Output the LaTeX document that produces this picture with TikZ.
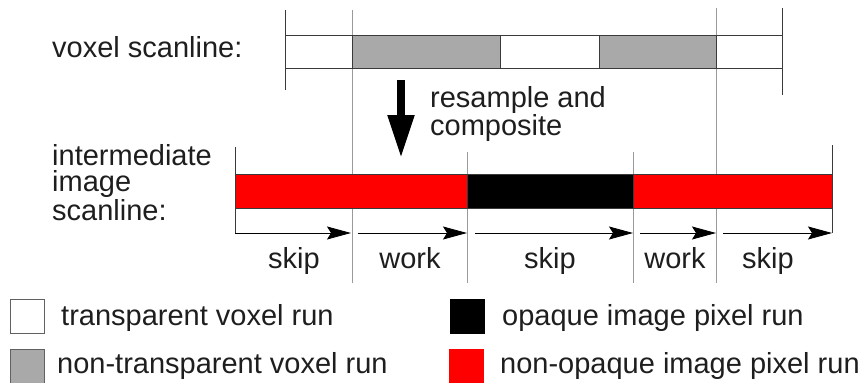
\documentclass[tikz,border=0pt]{standalone}
\usepackage{fontspec}
\setmainfont{Liberation Sans}
\usetikzlibrary{arrows.meta}
\definecolor{txt}{HTML}{1E1E1E}
\definecolor{voxgray}{HTML}{A9A9A9}
\definecolor{edge}{HTML}{3A3A3A}
\definecolor{guide}{HTML}{9A9A9A}
\begin{document}
\begin{tikzpicture}[x=1pt,y=-1pt,
  lbl/.style={anchor=base west,inner sep=0pt,text=txt,font=\fontsize{29}{29}\selectfont},
  mlbl/.style={anchor=base west,inner sep=0pt,text=txt,align=left},
  seglbl/.style={anchor=base,inner sep=0pt,text=txt,font=\fontsize{29}{29}\selectfont},
  vseg/.style={draw=edge,line width=0.9pt,anchor=north west,inner sep=0pt,minimum height=33pt},
  iseg/.style={draw=edge,line width=0.9pt,anchor=north west,inner sep=0pt,minimum height=34pt},
  guideline/.style={draw=guide,line width=0.7pt},
  tick/.style={draw=edge,line width=0.8pt},
  runarrow/.style={draw=black,line width=0.8pt,-{Stealth[length=24pt,width=13pt,inset=4pt]}},
  bigarrow/.style={draw=black,line width=8pt,-{Triangle[length=43pt,width=25pt]}},
  legbox/.style={draw=edge!80,line width=0.9pt,anchor=north west,inner sep=0pt,minimum width=34pt,minimum height=34pt}]
\useasboundingbox (0,0) rectangle (868,383);

% guide lines
\draw[guideline] (352,10) -- (352,283);
\draw[guideline] (716,8) -- (716,283);
\draw[guideline] (467,152) -- (467,283);
\draw[guideline] (633,152) -- (633,283);

% voxel scanline
\node[vseg,fill=white,minimum width=67pt] (v1) at (285,35) {};
\node[vseg,fill=voxgray,minimum width=148pt] (v2) at (352,35) {};
\node[vseg,fill=white,minimum width=99pt] (v3) at (500,35) {};
\node[vseg,fill=voxgray,minimum width=117pt] (v4) at (599,35) {};
\node[vseg,fill=white,minimum width=66pt] (v5) at (716,35) {};
\draw[tick] (285,10) -- (285,90);
\draw[tick] (782,8) -- (782,95);

% intermediate image scanline
\node[iseg,fill=red,minimum width=232pt] (r1) at (235,174) {};
\node[iseg,fill=black,minimum width=166pt] (b1) at (467,174) {};
\node[iseg,fill=red,minimum width=199pt] (r2) at (633,174) {};
\draw[tick] (235,147) -- (235,233);
\draw[tick] (832,145) -- (832,233);

% big arrow
\coordinate (bs) at (401,80);
\coordinate (be) at (401,158);
\draw[bigarrow] (bs) -- (be);

% labels
\node[lbl] (l1) at (52,57) {voxel scanline:};
\node[mlbl,font=\fontsize{29}{26.5}\selectfont] (l2) at (52,220) {intermediate\\image\\scanline:};
\node[mlbl,font=\fontsize{29}{28}\selectfont] (l5) at (430,135) {resample and\\composite};

% run arrows
\coordinate (a1s) at (235,233); \coordinate (a1e) at (351,233);
\coordinate (a2s) at (358,233); \coordinate (a2e) at (467,233);
\coordinate (a3s) at (475,233); \coordinate (a3e) at (633,233);
\coordinate (a4s) at (640,233); \coordinate (a4e) at (716,233);
\coordinate (a5s) at (723,233); \coordinate (a5e) at (832,233);
\draw[runarrow] (a1s) -- (a1e);
\draw[runarrow] (a2s) -- (a2e);
\draw[runarrow] (a3s) -- (a3e);
\draw[runarrow] (a4s) -- (a4e);
\draw[runarrow] (a5s) -- (a5e);

\node[seglbl] (s1) at (294,268) {skip};
\node[seglbl] (w1) at (410,268) {work};
\node[seglbl] (s2) at (550,268) {skip};
\node[seglbl] (w2) at (675,268) {work};
\node[seglbl] (s3) at (768,268) {skip};

% legend
\node[legbox,fill=white] (k1) at (10,299) {};
\node[legbox,fill=voxgray] (k2) at (10,349) {};
\node[legbox,fill=black,draw=black] (k3) at (450,299) {};
\node[legbox,fill=red,draw=red] (k4) at (449,349) {};
\node[lbl] (t1) at (61,325) {transparent voxel run};
\node[lbl] (t2) at (57,373) {non-transparent voxel run};
\node[lbl] (t3) at (502,325) {opaque image pixel run};
\node[lbl] (t4) at (500,373) {non-opaque image pixel run};
\end{tikzpicture}
\end{document}
